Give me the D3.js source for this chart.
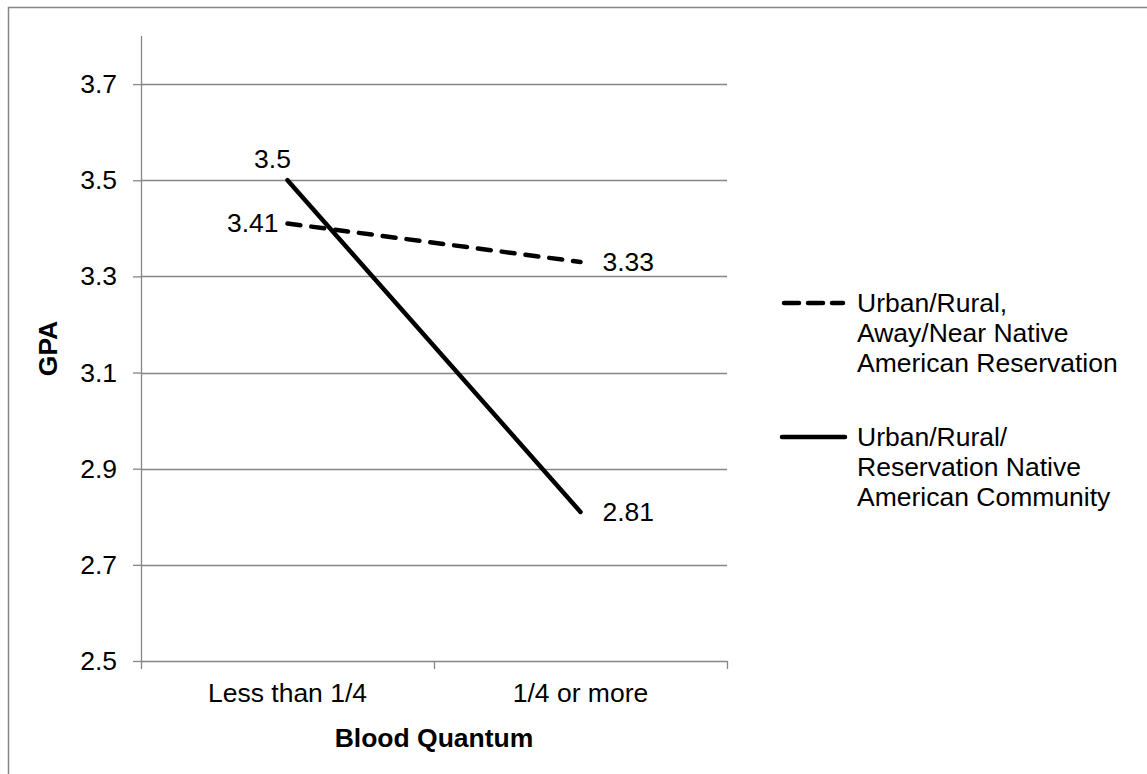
<!DOCTYPE html>
<html>
<head>
<meta charset="utf-8">
<script src="https://cdn.jsdelivr.net/npm/d3@7"></script>
<style>
  html, body { margin: 0; padding: 0; background: #fff; }
  svg { display: block; }
  text { font-family: "Liberation Sans", Arial, sans-serif; fill: #000; }
</style>
</head>
<body>
<svg id="chart" width="1147" height="774"></svg>
<script>
// ---- Data ----
const categories = ["Less than 1/4", "1/4 or more"];
const seriesNames = [
  ["Urban/Rural,", "Away/Near Native", "American Reservation"],
  ["Urban/Rural/", "Reservation Native", "American Community"]
];
const awayNearValues = [3.41, 3.33];
const reservationValues = [3.5, 2.81];
const yTickValues = [2.5, 2.7, 2.9, 3.1, 3.3, 3.5, 3.7];
const yTitle = "GPA";
const xTitle = "Blood Quantum";

// ---- Layout ----
const W = 1147, H = 774;
const plot = { left: 141, right: 727, top: 36, bottom: 661 };
const fontSize = 26.5;
const gridColor = "#868686";

const svg = d3.select("#chart");

// outer chart border (extends beyond image at right/bottom)
svg.append("rect")
  .attr("x", 8.5).attr("y", 7.5)
  .attr("width", W + 20).attr("height", H + 20)
  .attr("fill", "none").attr("stroke", gridColor).attr("stroke-width", 1.5);

const x = d3.scaleBand().domain(categories).range([plot.left, plot.right]).padding(0);
const y = d3.scaleLinear().domain([2.5, 3.8]).range([plot.bottom, plot.top]);
const cx = c => x(c) + x.bandwidth() / 2;

// gridlines
svg.append("g").selectAll("line")
  .data(yTickValues.filter(v => v > 2.5))
  .join("line")
  .attr("x1", plot.left).attr("x2", plot.right)
  .attr("y1", d => Math.round(y(d)) + 0.5).attr("y2", d => Math.round(y(d)) + 0.5)
  .attr("stroke", gridColor).attr("stroke-width", 1.3);

// y axis
const yAxis = d3.axisLeft(y).tickValues(yTickValues).tickSize(8).tickPadding(16)
  .tickFormat(d3.format(".1f"));
const gy = svg.append("g").attr("transform", `translate(${plot.left},0)`).call(yAxis);
gy.select(".domain").remove();
gy.selectAll(".tick line").attr("stroke", gridColor).attr("stroke-width", 1.3);
gy.selectAll(".tick text").attr("font-size", fontSize).attr("fill", "#000")
  .style("font-family", '"Liberation Sans", Arial, sans-serif');
svg.append("line")
  .attr("x1", plot.left + 0.5).attr("x2", plot.left + 0.5)
  .attr("y1", plot.top).attr("y2", plot.bottom)
  .attr("stroke", gridColor).attr("stroke-width", 1.3);

// x axis
svg.append("line")
  .attr("x1", plot.left).attr("x2", plot.right)
  .attr("y1", plot.bottom + 0.5).attr("y2", plot.bottom + 0.5)
  .attr("stroke", gridColor).attr("stroke-width", 1.3);
const xTickPos = categories.map(c => x(c)).concat([x(categories[categories.length - 1]) + x.bandwidth()]);
svg.append("g").selectAll("line").data(xTickPos).join("line")
  .attr("x1", d => d + 0.5).attr("x2", d => d + 0.5)
  .attr("y1", plot.bottom).attr("y2", plot.bottom + 8)
  .attr("stroke", gridColor).attr("stroke-width", 1.3);
svg.append("g").selectAll("text").data(categories).join("text")
  .attr("x", d => cx(d)).attr("y", plot.bottom + 41)
  .attr("text-anchor", "middle").attr("font-size", fontSize)
  .text(d => d);

// axis titles
svg.append("text")
  .attr("x", (plot.left + plot.right) / 2).attr("y", 747)
  .attr("text-anchor", "middle").attr("font-size", fontSize).attr("font-weight", "bold")
  .text(xTitle);
svg.append("text")
  .attr("transform", `translate(57,${(plot.top + plot.bottom) / 2}) rotate(-90)`)
  .attr("text-anchor", "middle").attr("font-size", fontSize).attr("font-weight", "bold")
  .text(yTitle);

// series lines
const line = d3.line().x((d, i) => cx(categories[i])).y(d => y(d));
svg.append("path").datum(awayNearValues)
  .attr("d", line).attr("fill", "none").attr("stroke", "#000")
  .attr("stroke-width", 4.5).attr("stroke-linecap", "round")
  .attr("stroke-dasharray", "13,11");
svg.append("path").datum(reservationValues)
  .attr("d", line).attr("fill", "none").attr("stroke", "#000")
  .attr("stroke-width", 4.5).attr("stroke-linecap", "round");

// data labels
const lab = (t, xx, yy, anchor) => svg.append("text")
  .attr("x", xx).attr("y", yy).attr("dy", "0.35em")
  .attr("text-anchor", anchor).attr("font-size", fontSize).text(t);
lab(String(awayNearValues[0]), cx(categories[0]) - 9, y(awayNearValues[0]) - 1, "end");
lab(String(awayNearValues[1]), cx(categories[1]) + 22, y(awayNearValues[1]), "start");
lab(String(reservationValues[0]), cx(categories[0]) - 15, y(reservationValues[0]) - 22, "middle");
lab(String(reservationValues[1]), cx(categories[1]) + 22, y(reservationValues[1]), "start");

// legend
const legend = [
  { names: seriesNames[0], dash: "15,9", y: 303 },
  { names: seriesNames[1], dash: null, y: 437 }
];
legend.forEach(item => {
  const ln = svg.append("line")
    .attr("x1", 782).attr("x2", 845).attr("y1", item.y).attr("y2", item.y)
    .attr("stroke", "#000").attr("stroke-width", 4.5).attr("stroke-linecap", "round");
  if (item.dash) ln.attr("stroke-dasharray", item.dash).attr("x1", 784).attr("x2", 843);
  const t = svg.append("text").attr("x", 857).attr("y", item.y).attr("font-size", fontSize);
  item.names.forEach((n, i) => {
    t.append("tspan").attr("x", 857).attr("y", item.y + i * 30).attr("dy", "0.35em").text(n);
  });
});
</script>
</body>
</html>
